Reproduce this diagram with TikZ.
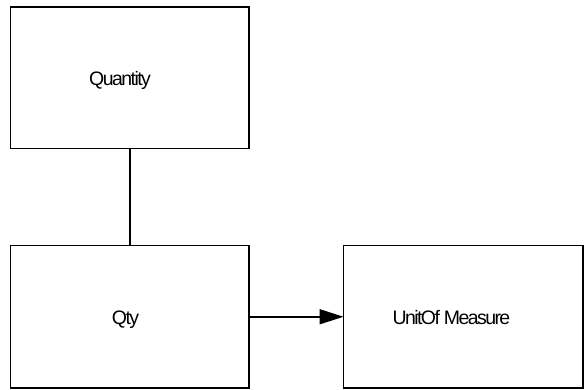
\documentclass[tikz,border=0pt]{standalone}
\usepackage{fontspec}
\setmainfont{Liberation Sans}[LetterSpace=-8]
\usetikzlibrary{arrows.meta}
\begin{document}
\begin{tikzpicture}[x=1pt,y=-1pt,
  box/.style={draw=black,line width=1.6pt,inner sep=0pt,outer sep=0pt,rectangle},
  lbl/.style={anchor=base west,inner sep=0pt,font=\fontsize{19.5}{22}\selectfont},
  conn/.style={line width=1.6pt}]
\useasboundingbox (0,0) rectangle (584,389);
\node[box,minimum width=238.5pt,minimum height=141.5pt] (quantity) at (129.75,77.75) {};
\node[box,minimum width=238.5pt,minimum height=142.5pt] (qty) at (129.75,316.75) {};
\node[box,minimum width=239.5pt,minimum height=142.5pt] (uom) at (463.25,316.75) {};
\node[lbl] (tquantity) at (89,85.7) {Quantity};
\node[lbl] (tqty) at (111.7,324.3) {Qty};
\node[lbl] (tuom) at (392.3,324.3) {UnitOf Measure};
\draw[conn] (quantity.south) -- (qty.north);
\draw[conn,-{Triangle[length=24pt,width=15pt]}] (qty.east) -- (uom.west);
\end{tikzpicture}
\end{document}
